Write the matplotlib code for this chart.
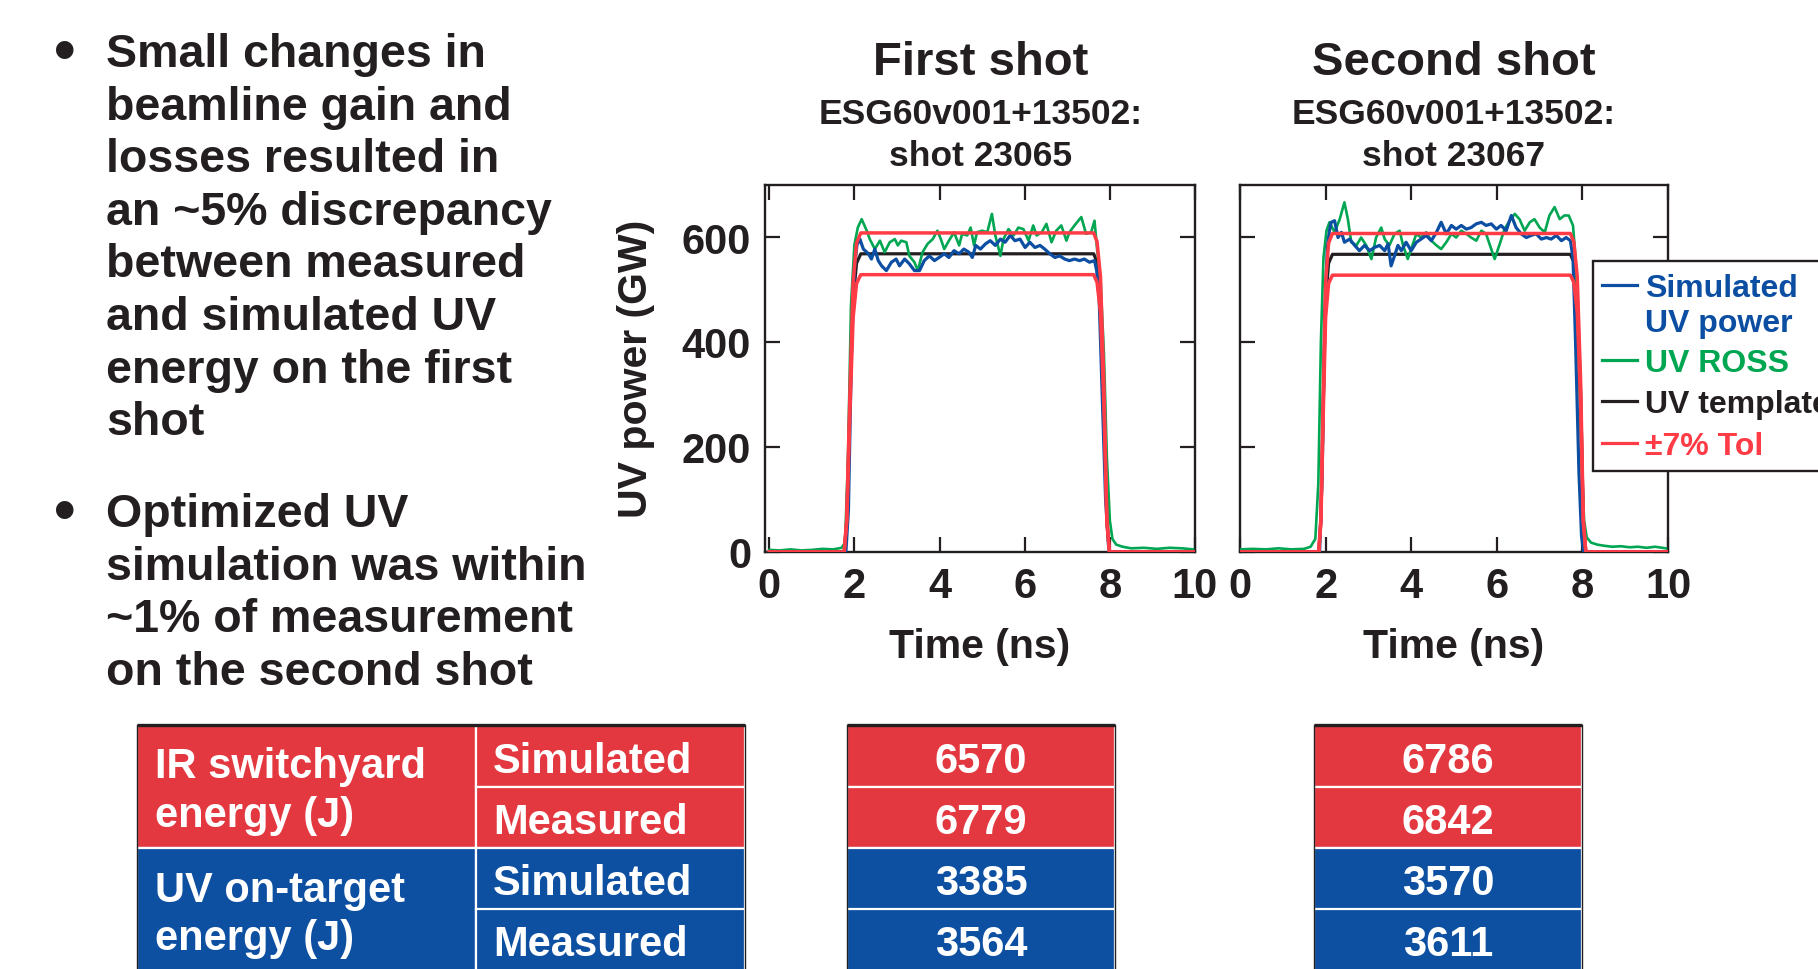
import matplotlib.pyplot as plt
from matplotlib.patches import Rectangle
from matplotlib.lines import Line2D
import numpy as np

plt.rcParams['font.family'] = ['Liberation Sans', 'DejaVu Sans']
plt.rcParams['font.weight'] = 'bold'
plt.rcParams['axes.labelweight'] = 'bold'

DARK = '#231F20'
BLUE = '#0B4EA2'
GREEN = '#00A651'
RED = '#FF3B45'
TAB_RED = '#E3383F'
TAB_BLUE = '#0D4FA1'

# ---- pulse traces, shot 23065 (time in ns, power in GW) ----
sim1_t = [0, 1.80, 1.86, 1.93, 2.00, 2.06,
          2.13, 2.21, 2.33, 2.40, 2.48, 2.56, 2.64, 2.75, 2.87, 2.98,
          3.06, 3.18, 3.29, 3.41, 3.53, 3.64, 3.76, 3.88, 3.99, 4.11,
          4.22, 4.34, 4.46, 4.57, 4.69, 4.77, 4.85, 4.96, 5.08, 5.19,
          5.31, 5.43, 5.54, 5.66, 5.77, 5.89, 6.01, 6.12, 6.24, 6.36,
          6.47, 6.59, 6.71, 6.82, 6.94, 7.05, 7.17, 7.29, 7.40, 7.52,
          7.64, 7.69, 7.75, 7.82, 7.90, 7.97, 8.00, 10]
sim1_p = [0, 0, 80, 380, 540, 585,
          596, 577, 568, 558, 577, 555, 545, 536, 552, 558,
          545, 558, 549, 536, 536, 555, 564, 555, 561, 568,
          561, 574, 568, 577, 571, 561, 584, 577, 587, 593,
          584, 596, 590, 603, 593, 596, 580, 590, 580, 584,
          577, 568, 561, 564, 558, 555, 558, 555, 558, 552,
          555, 536, 480, 300, 100, 10, 0, 0]

ross1_t = [0, 0.25, 0.5, 0.75, 1.0, 1.25, 1.5, 1.7, 1.78, 1.85, 1.92, 2.00, 2.08,
           2.17, 2.29, 2.36, 2.48, 2.60, 2.71, 2.83, 2.95, 3.02, 3.10,
           3.22, 3.29, 3.41, 3.49, 3.60, 3.72, 3.84, 3.95, 4.03, 4.11,
           4.22, 4.34, 4.46, 4.53, 4.65, 4.73, 4.81, 4.88, 5.00, 5.12,
           5.23, 5.31, 5.43, 5.50, 5.62, 5.74, 5.85, 5.97, 6.09, 6.20,
           6.28, 6.40, 6.51, 6.63, 6.74, 6.86, 6.98, 7.05, 7.17, 7.33,
           7.44, 7.56, 7.64, 7.70,
           7.78, 7.86, 7.93, 8.00, 8.06, 8.15, 8.3, 8.5, 8.8, 9.1, 9.4, 9.7, 9.95]
ross1_p = [4, 3, 5, 3, 4, 6, 5, 8, 18, 180, 470, 585, 618,
           634, 612, 596, 577, 593, 571, 590, 596, 584, 593,
           590, 564, 552, 536, 571, 587, 596, 612, 596, 577,
           593, 609, 584, 606, 603, 618, 584, 609, 612, 609,
           644, 603, 564, 596, 615, 603, 618, 615, 593, 622,
           603, 609, 625, 590, 612, 622, 593, 609, 622, 638,
           606, 609, 631, 577,
           520, 380, 180, 60, 25, 14, 10, 7, 8, 6, 8, 7, 5]

tmpl1_t = [0, 1.76, 1.82, 1.90, 1.97, 2.05, 2.15, 7.62, 7.70, 7.78, 7.86, 7.93, 7.99, 10]
tmpl1_p = [0, 0, 60, 300, 480, 550, 568, 568, 552, 490, 300, 60, 0, 0]

# ---- pulse traces, shot 23067 ----
sim2_t = [0, 1.86, 1.92, 1.98, 2.04, 2.09,
          2.13, 2.21, 2.29, 2.37, 2.44, 2.56, 2.68, 2.79, 2.91, 3.03,
          3.14, 3.26, 3.38, 3.46, 3.53, 3.61, 3.69, 3.77, 3.88, 4.00,
          4.12, 4.23, 4.35, 4.47, 4.59, 4.70, 4.82, 4.94, 5.05, 5.17,
          5.29, 5.40, 5.52, 5.64, 5.75, 5.87, 5.99, 6.10, 6.22, 6.34,
          6.45, 6.57, 6.69, 6.80, 6.92, 7.04, 7.16, 7.27, 7.39, 7.51,
          7.62, 7.72, 7.78, 7.84, 7.92, 7.98, 8.03, 10]
sim2_p = [0, 0, 150, 450, 580, 612,
          628, 631, 599, 609, 590, 596, 584, 574, 584, 574,
          580, 584, 574, 587, 545, 564, 584, 574, 590, 574,
          590, 596, 603, 593, 609, 628, 606, 622, 615, 622,
          615, 618, 625, 628, 622, 625, 615, 622, 612, 641,
          618, 606, 599, 603, 606, 596, 599, 596, 603, 593,
          599, 593, 560, 400, 150, 30, 0, 0]

ross2_t = [0, 0.3, 0.6, 0.9, 1.2, 1.5, 1.65, 1.76, 1.83, 1.89, 1.95, 2.02,
           2.09, 2.21, 2.33, 2.44, 2.52, 2.60, 2.72, 2.83, 2.95, 3.07,
           3.18, 3.30, 3.38, 3.49, 3.61, 3.73, 3.81, 3.92, 4.04, 4.12,
           4.23, 4.35, 4.47, 4.59, 4.70, 4.82, 4.94, 5.05, 5.17, 5.29,
           5.40, 5.52, 5.64, 5.75, 5.87, 5.95, 6.07, 6.18, 6.30, 6.42,
           6.53, 6.65, 6.77, 6.88, 7.00, 7.12, 7.23, 7.35, 7.47, 7.58,
           7.68, 7.78,
           7.84, 7.90, 7.97, 8.04, 8.10, 8.20, 8.35, 8.5, 8.7, 8.9, 9.1, 9.3, 9.5, 9.7, 9.95]
ross2_p = [5, 6, 5, 7, 5, 6, 10, 25, 130, 400, 560, 612,
           628, 609, 634, 666, 634, 590, 584, 599, 584, 558,
           599, 618, 596, 584, 606, 612, 584, 558, 587, 606,
           599, 609, 593, 584, 577, 590, 606, 599, 612, 606,
           599, 593, 612, 606, 577, 558, 587, 615, 631, 644,
           634, 612, 628, 634, 618, 609, 641, 657, 634, 641,
           641, 622,
           560, 400, 200, 60, 28, 18, 14, 12, 10, 11, 9, 10, 8, 10, 7]

tmpl2_t = [0, 1.84, 1.89, 1.95, 2.00, 2.07, 2.16, 7.72, 7.80, 7.88, 7.96, 8.02, 8.08, 10]
tmpl2_p = [0, 0, 60, 300, 480, 550, 567, 567, 552, 490, 300, 60, 0, 0]

tol = 0.07

titles = ['First shot', 'Second shot']
subtitles = [['ESG60v001+13502:', 'shot 23065'], ['ESG60v001+13502:', 'shot 23067']]

legend_labels = [['Simulated', 'UV power'], ['UV ROSS'], ['UV template'], ['\u00b17% Tol']]

bullet1 = ['Small changes in', 'beamline gain and', 'losses resulted in',
           'an ~5% discrepancy', 'between measured', 'and simulated UV',
           'energy on the first', 'shot']
bullet2 = ['Optimized UV', 'simulation was within', '~1% of measurement',
           'on the second shot']

# ---- energy table ----
groups = [['IR switchyard', 'energy (J)'], ['UV on-target', 'energy (J)']]
row_kinds = ['Simulated', 'Measured', 'Simulated', 'Measured']
energy_shot1 = [6570, 6779, 3385, 3564]
energy_shot2 = [6786, 6842, 3570, 3611]

W, H = 1818, 970
fig = plt.figure(figsize=(W / 100, H / 100), dpi=100)


def axes_box(left, top, right, bottom):
    return [left / W, 1 - bottom / H, (right - left) / W, (bottom - top) / H]


ax1 = fig.add_axes(axes_box(765, 185.5, 1195, 553))
ax2 = fig.add_axes(axes_box(1240, 185.5, 1668, 553))

traces = [(ax1, sim1_t, sim1_p, ross1_t, ross1_p, tmpl1_t, tmpl1_p),
          (ax2, sim2_t, sim2_p, ross2_t, ross2_p, tmpl2_t, tmpl2_p)]
for ax, st, sp, rt, rp, tt, tp in traces:
    tp = np.array(tp, dtype=float)
    ax.plot(tt, tp, color=DARK, lw=2.3, zorder=2)
    ax.plot(rt, rp, color=GREEN, lw=1.9, zorder=3)
    ax.plot(st, sp, color=BLUE, lw=2.3, zorder=4)
    ax.plot(tt, tp * (1 + tol), color=RED, lw=2.5, zorder=5)
    ax.plot(tt, tp * (1 - tol), color=RED, lw=2.5, zorder=5)
    ax.set_ylim(0, 700)
    ax.set_xticks([0, 2, 4, 6, 8, 10])
    ax.set_yticks([0, 200, 400, 600])
    ax.tick_params(direction='in', top=True, right=True, length=11, width=1.6,
                   labelsize=30, pad=10, colors=DARK)
    for s in ax.spines.values():
        s.set_linewidth(1.7)
        s.set_color(DARK)
    ax.set_xlabel('Time (ns)', fontsize=29.5, color=DARK, fontweight='bold')
    ax.xaxis.label.set_verticalalignment('baseline')

ax1.set_xlim(-0.1, 10)
ax2.set_xlim(0, 10)
ax1.set_ylabel('UV power (GW)', fontsize=29.5, color=DARK, fontweight='bold')
ax1.yaxis.set_label_coords((655 - 765) / 430, 0.5)
ax2.tick_params(labelleft=False)
ax1.xaxis.set_label_coords(0.5, (553 - 658) / 367.5)
ax2.xaxis.set_label_coords(0.498, (553 - 658) / 367.5)

# titles above each panel
for cx, title, sub in zip([981, 1454], titles, subtitles):
    fig.text(cx / W, 1 - 75 / H, title, fontsize=34, ha='center', va='baseline', color=DARK)
    fig.text(cx / W, 1 - 123.5 / H, sub[0], fontsize=25.5, ha='center', va='baseline', color=DARK)
    fig.text(cx / W, 1 - 166.5 / H, sub[1], fontsize=25.5, ha='center', va='baseline', color=DARK)

# bullet text
for lines, first in [(bullet1, 67), (bullet2, 527)]:
    fig.text(65 / W, 1 - (first + 3) / H, '\u2022', fontsize=44, ha='center',
             va='baseline', color=DARK)
    for i, line in enumerate(lines):
        fig.text(106 / W, 1 - (first + 52.6 * i) / H, line, fontsize=33.5,
                 va='baseline', color=DARK)

# overlay in pixel units for the table and the legend box
ov = fig.add_axes([0, 0, 1, 1], zorder=10)
ov.set_xlim(0, W)
ov.set_ylim(H, 0)
ov.axis('off')
ov.patch.set_visible(False)

row_top = [726, 787.5, 849, 910]
row_h = 61.5
row_col = [TAB_RED, TAB_RED, TAB_BLUE, TAB_BLUE]
row_base = [772.7, 834, 895.3, 956]

# label column: one cell per group
for g, (lines, col) in enumerate(zip(groups, [TAB_RED, TAB_BLUE])):
    y0 = row_top[2 * g]
    ov.add_patch(Rectangle((137, y0), 476 - 137, 2 * row_h, facecolor=col,
                           edgecolor='white', lw=1.6))
    for j, line in enumerate(lines):
        ov.text(155, [778.3, 901.7][g] + 48.5 * j, line, fontsize=30, color='white',
                va='baseline', ha='left')

# kind column and the two value columns
for i in range(4):
    ov.add_patch(Rectangle((476, row_top[i]), 745 - 476, row_h, facecolor=row_col[i],
                           edgecolor='white', lw=1.6))
    ov.text(493, row_base[i], row_kinds[i], fontsize=30, color='white', va='baseline')
    for (x0, x1), vals in zip([(847, 1115), (1314, 1582)], [energy_shot1, energy_shot2]):
        ov.add_patch(Rectangle((x0, row_top[i]), x1 - x0, row_h, facecolor=row_col[i],
                               edgecolor='white', lw=1.6))
        ov.text((x0 + x1) / 2, row_base[i], str(vals[i]), fontsize=30, color='white',
                ha='center', va='baseline')

for x0, x1 in [(137, 745), (847, 1115), (1314, 1582)]:
    ov.plot([x0, x1], [726, 726], color=DARK, lw=2.4, solid_capstyle='butt')
    ov.plot([x0, x0], [726, H], color=DARK, lw=1.0)
    ov.plot([x1, x1], [726, H], color=DARK, lw=1.0)

# legend box
ov.add_patch(Rectangle((1593, 261.5), 300, 210.5, facecolor='white', edgecolor=DARK, lw=1.7))
leg_cols = [BLUE, GREEN, DARK, RED]
leg_base = [[296.7, 331.7], [371.7], [413.3], [455]]
for lines, col, bases in zip(legend_labels, leg_cols, leg_base):
    ymid = bases[0] - 11
    ov.add_line(Line2D([1602, 1637], [ymid, ymid], color=col, lw=2.3))
    for line, b in zip(lines, bases):
        ov.text(1645, b, line, fontsize=23, color=col, va='baseline')

fig.savefig('out.png', dpi=100)
